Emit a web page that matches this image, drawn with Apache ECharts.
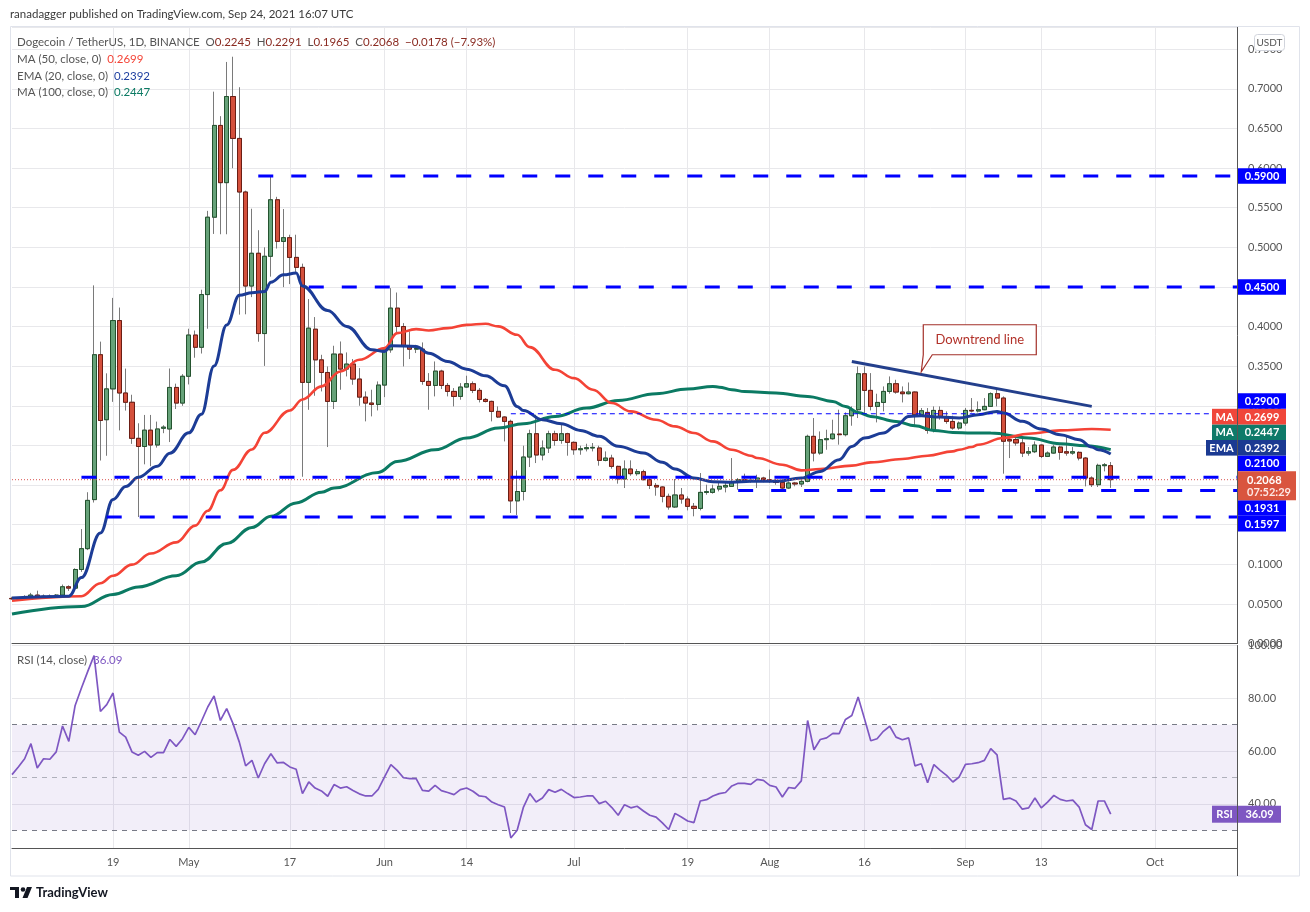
<!DOCTYPE html>
<html><head><meta charset="utf-8">
<script src="https://cdn.jsdelivr.net/npm/echarts/dist/echarts.min.js"></script>
<style>html,body{margin:0;padding:0;background:#fff;}#c{width:1310px;height:912px;}</style>
</head><body><div id="c"></div>
<script>
// ---------- DATA ----------
const startDate = '2021-04-03';
const dayCount = 195;
const xTickDates = ['2021-04-19','2021-05-01','2021-05-17','2021-06-01','2021-06-14','2021-07-01','2021-07-19','2021-08-01','2021-08-16','2021-09-01','2021-09-13','2021-10-01'];
const xTickLabels = ['19','May','17','Jun','14','Jul','19','Aug','16','Sep','13','Oct'];
// daily candles from 2021-04-03: [open, high, low, close]
const candles = [
[.0570,.0590,.0552,.0566],[.0566,.0585,.0556,.0573],[.0573,.0610,.0562,.0590],[.0590,.0640,.0580,.0612],[.0612,.0668,.0580,.0592],
[.0592,.0620,.0572,.0598],[.0598,.0620,.0576,.0591],[.0591,.0625,.0580,.0612],[.0612,.0745,.0600,.0717],[.0717,.0735,.0665,.0700],
[.0700,.0950,.0690,.0935],[.0935,.1445,.0905,.1198],[.1198,.1910,.1180,.1807],[.1817,.4520,.1780,.3645],[.3645,.3810,.2310,.2815],
[.2825,.3410,.2370,.3214],[.3214,.4362,.3050,.4076],[.4076,.4240,.2690,.3162],[.3162,.3470,.2940,.3045],[.3045,.3140,.2520,.2590],
[.2590,.2780,.1597,.2487],[.2487,.2885,.2262,.2693],[.2693,.2885,.2238,.2506],[.2506,.2801,.2473,.2708],[.2717,.2755,.2655,.2731],
[.2708,.3471,.2543,.3232],[.3232,.3280,.2960,.3035],[.3035,.3400,.3000,.3373],[.3373,.3973,.3270,.3893],[.3893,.3950,.3607,.3739],
[.3739,.4465,.3660,.4404],[.4404,.5460,.3973,.5380],[.5380,.6964,.5169,.6538],[.6538,.6655,.5165,.5816],[.5816,.7339,.5165,.6903],
[.6903,.7405,.5998,.6374],[.6374,.7020,.4151,.5698],[.5698,.5715,.4155,.4512],[.4512,.5487,.4372,.4925],[.4925,.5216,.3809,.3912],
[.3912,.5000,.3504,.4887],[.4887,.5905,.4630,.5600],[.5600,.5637,.4985,.5075],[.5075,.5483,.4498,.5122],[.5122,.5159,.4536,.4873],
[.4873,.5159,.4690,.4747],[.4747,.4794,.2105,.3296],[.3296,.4347,.2950,.3980],[.3967,.4120,.3127,.3580],[.3580,.3644,.3182,.3421],
[.3421,.3497,.2480,.3056],[.3056,.3758,.2960,.3653],[.3653,.3812,.3203,.3464],[.3464,.3674,.3371,.3527],[.3527,.3590,.3266,.3338],
[.3338,.3476,.3001,.3110],[.3110,.3182,.2804,.3035],[.3035,.3203,.2867,.3018],[.3018,.3308,.2942,.3262],[.3262,.3730,.3110,.3707],
[.3707,.4485,.3670,.4233],[.4233,.4430,.3920,.4001],[.4001,.4044,.3497,.3757],[.3757,.3938,.3590,.3715],[.3715,.3770,.3666,.3724],
[.3715,.3800,.3266,.3308],[.3308,.3413,.2951,.3257],[.3257,.3560,.3119,.3438],[.3438,.3455,.3212,.3257],[.3257,.3287,.3119,.3182],
[.3182,.3224,.2993,.3119],[.3119,.3287,.3077,.3237],[.3237,.3380,.3230,.3279],[.3279,.3308,.3161,.3195],[.3195,.3224,.3043,.3081],
[.3081,.3098,.3043,.3056],[.3056,.3065,.2804,.2930],[.2930,.2993,.2846,.2859],[.2859,.2867,.2551,.2804],[.2804,.2825,.1648,.1801],
[.1801,.2186,.1623,.1919],[.1919,.2497,.1807,.2354],[.2354,.2699,.2228,.2648],[.2648,.2888,.2278,.2380],[.2380,.2564,.2312,.2468],
[.2468,.2686,.2405,.2648],[.2648,.2686,.2497,.2564],[.2564,.2762,.2522,.2648],[.2648,.2660,.2371,.2539],[.2539,.2551,.2383,.2446],
[.2446,.2497,.2383,.2459],[.2459,.2522,.2425,.2472],[.2468,.2531,.2425,.2476],[.2468,.2497,.2245,.2312],[.2312,.2425,.2300,.2341],
[.2341,.2383,.2207,.2236],[.2236,.2245,.2018,.2077],[.2077,.2312,.1963,.2203],[.2203,.2312,.2118,.2144],[.2144,.2203,.2118,.2169],
[.2169,.2194,.2060,.2068],[.2068,.2089,.1950,.1996],[.1996,.2026,.1866,.1976],[.1976,.1984,.1782,.1858],[.1858,.1892,.1690,.1724],
[.1724,.2077,.1711,.1875],[.1875,.1963,.1765,.1824],[.1824,.1858,.1681,.1732],[.1732,.1774,.1606,.1706],[.1706,.2152,.1681,.1908],
[.1908,.2005,.1879,.1917],[.1908,.2005,.1892,.1950],[.1950,.2026,.1921,.1984],[.1976,.2026,.1908,.1996],[.1984,.2341,.1976,.2039],
[.2039,.2089,.1942,.2068],[.2068,.2144,.2026,.2055],[.2055,.2090,.2030,.2062],[.2047,.2131,.1963,.2089],[.2089,.2105,.2035,.2068],
[.2068,.2194,.2026,.2047],[.2047,.2075,.2005,.2034],[.2034,.2068,.1933,.1963],[.1963,.2047,.1950,.2026],[.2026,.2040,.1985,.2014],
[.2014,.2089,.1976,.2047],[.2047,.2636,.2035,.2615],[.2615,.2846,.2299,.2404],[.2404,.2677,.2383,.2573],[.2573,.2699,.2446,.2585],
[.2585,.2825,.2573,.2644],[.2644,.2951,.2510,.2636],[.2636,.2917,.2615,.2875],[.2875,.2993,.2749,.2951],[.2951,.3497,.2846,.3405],
[.3405,.3497,.2888,.3195],[.3195,.3413,.2942,.2993],[.2993,.3153,.2791,.3043],[.3043,.3245,.2930,.3182],[.3182,.3371,.3153,.3279],
[.3279,.3329,.3153,.3174],[.3174,.3245,.3043,.3153],[.3153,.3295,.3145,.3174],[.3174,.3182,.2732,.2888],[.2888,.2972,.2866,.2938],
[.2917,.2972,.2648,.2690],[.2690,.2993,.2665,.2942],[.2942,.2993,.2825,.2866],[.2866,.2930,.2774,.2803],[.2803,.2875,.2699,.2720],
[.2720,.2803,.2699,.2783],[.2783,.2972,.2749,.2942],[.2943,.3098,.2917,.2935],[.2935,.3056,.2917,.2951],[.2951,.3098,.2945,.2993],
[.2993,.3170,.2985,.3153],[.3153,.3203,.2993,.3098],[.3098,.3119,.2144,.2553],[.2574,.2636,.2341,.2557],[.2574,.2614,.2497,.2532],
[.2532,.2614,.2354,.2404],[.2404,.2480,.2371,.2421],[.2421,.2551,.2404,.2505],[.2505,.2512,.2341,.2362],[.2362,.2425,.2354,.2404],
[.2404,.2509,.2396,.2480],[.2480,.2497,.2320,.2413],[.2421,.2614,.2371,.2404],[.2404,.2480,.2383,.2421],[.2413,.2425,.2312,.2341],
[.2341,.2354,.1984,.2089],[.2089,.2110,.1976,.2005],[.2005,.2270,.1976,.2249],[.2245,.2278,.2173,.2256],[.2245,.2291,.1965,.2068]
];
// indicator readings: [day index, value]
const ema20 = [[0,.0574],[9,.0598],[11,.0833],[14,.1395],[16,.1817],[18,.1981],[20,.2098],[23,.2239],[25,.2403],[28,.2660],[30,.2895],[32,.3504],[34,.4020],[36,.4395],[38,.4428],[40,.4442],[41,.4559],[43,.4653],[45,.4676],[46,.4512],[50,.4203],[53,.4002],[57,.3707],[59,.3686],[60,.3758],[64,.3749],[66,.3665],[69,.3560],[72,.3463],[75,.3379],[78,.3253],[80,.2993],[81,.2940],[84,.2825],[87,.2774],[90,.2690],[93,.2615],[96,.2489],[100,.2404],[103,.2287],[105,.2203],[108,.2090],[111,.2043],[114,.2035],[117,.2047],[121,.2047],[125,.2089],[128,.2173],[131,.2320],[133,.2488],[135,.2593],[138,.2656],[140,.2749],[142,.2866],[144,.2875],[147,.2858],[150,.2846],[153,.2888],[156,.2930],[157,.2909],[160,.2804],[163,.2707],[166,.2636],[169,.2573],[171,.2480],[172,.2446],[174,.2392]];
const ma50 = [[0,.0541],[11,.0598],[14,.0762],[16,.0856],[19,.0996],[22,.1137],[26,.1277],[29,.1488],[31,.1676],[33,.1934],[35,.2192],[38,.2450],[40,.2660],[44,.2942],[46,.3080],[49,.3246],[52,.3434],[55,.3581],[59,.3728],[61,.3917],[64,.3968],[66,.3951],[69,.3980],[72,.4022],[75,.4035],[77,.4002],[80,.3896],[82,.3741],[86,.3455],[89,.3350],[92,.3203],[95,.3035],[98,.2930],[102,.2825],[105,.2741],[108,.2657],[111,.2552],[114,.2446],[117,.2371],[118,.2341],[122,.2257],[125,.2186],[128,.2203],[133,.2245],[136,.2287],[141,.2329],[145,.2371],[149,.2426],[150,.2446],[152,.2480],[153,.2509],[157,.2594],[161,.2648],[166,.2690],[171,.2707],[174,.2699]];
const ma100 = [[0,.0373],[11,.0467],[16,.0621],[20,.0715],[26,.0856],[30,.1029],[34,.1263],[38,.1465],[41,.1606],[45,.1775],[49,.1910],[51,.1963],[58,.2160],[61,.2299],[67,.2446],[72,.2593],[77,.2719],[81,.2775],[86,.2866],[91,.2972],[96,.3068],[102,.3153],[107,.3211],[111,.3245],[112,.3236],[114,.3203],[116,.3180],[121,.3161],[126,.3119],[130,.3056],[132,.2993],[134,.2917],[136,.2867],[140,.2803],[143,.2749],[146,.2690],[149,.2665],[152,.2657],[155,.2656],[161,.2594],[166,.2522],[170,.2497],[174,.2447]];
const rsi = [51.1,54.0,57.1,62.8,53.6,57.1,56.9,59.7,69.5,63.7,77.3,83.9,90.2,96.2,75.0,77.6,82.0,67.2,65.3,59.7,
58.4,59.9,57.6,59.4,59.4,64.4,61.8,64.7,69.0,66.2,71.3,76.7,80.9,71.6,76.1,70.4,63.4,54.4,56.5,49.8,
55.2,59.0,55.5,55.7,54.0,53.1,43.9,48.3,46.0,44.9,42.9,47.3,46.0,46.5,45.1,43.8,43.0,43.0,45.5,50.2,
54.9,52.7,49.9,49.6,49.6,45.1,44.8,47.0,45.0,44.3,43.5,45.4,46.0,44.8,43.0,42.7,40.7,39.7,38.8,27.1,
30.0,38.8,43.9,40.7,42.2,45.4,44.4,45.5,43.9,42.4,42.6,43.0,43.0,40.1,41.0,38.6,35.7,39.7,38.5,39.1,
37.3,35.7,35.0,32.8,30.3,36.4,35.0,33.5,32.9,41.1,41.6,43.0,43.9,44.3,46.8,47.8,47.8,47.4,49.3,48.9,
47.0,46.4,42.6,46.2,45.9,48.7,71.6,60.5,64.4,65.0,66.7,66.6,72.0,73.5,80.5,72.3,63.9,64.7,67.5,69.4,
65.3,64.3,65.0,54.4,55.2,48.0,54.9,52.7,50.8,48.3,50.2,55.0,55.2,55.6,56.5,60.9,58.6,41.7,42.2,41.1,
38.0,38.5,42.2,38.5,40.7,43.2,41.7,41.1,41.4,38.8,32.1,30.3,41.1,41.1,36.09];
const levelValues = [0.59, 0.45, 0.21, 0.1931, 0.1597];
const levelStarts = ['2021-05-12','2021-05-20','2021-04-14','2021-07-27','2021-04-18'];
const thinLevel = 0.29, thinLevelStart = '2021-06-21';
const lastPrice = 0.2068;
const trendLine = [['2021-08-14',0.356],['2021-09-21',0.2993]];
const calloutTip = ['2021-08-25',0.343];
const ohlcText = ['0.2245','0.2291','0.1965','0.2068','−0.0178 (−7.93%)'];

// ---------- CHART ----------
const dates = [];
(function(){const d0=Date.UTC(2021,3,3);for(let i=0;i<dayCount;i++){dates.push(new Date(d0+i*86400000).toISOString().slice(0,10));}})();
const tickMap = {}; xTickDates.forEach((d,i)=>tickMap[d]=xTickLabels[i]);
const isTick = (i,v)=> tickMap[v]!==undefined;
const F = 'Lato, "Liberation Sans", sans-serif';
const gridCol = '#e8e8eb';
const lastDate = dates[dates.length-1];
const toPts = arr => arr.map(p=>[dates[p[0]], p[1]]);

const chart = echarts.init(document.getElementById('c'));
const levelSeries = levelValues.map((v,i)=>({
  type:'line', xAxisIndex:0, yAxisIndex:0, symbol:'none', silent:true, z:8,
  data:[[levelStarts[i],v],[lastDate,v]],
  lineStyle:{color:'#0000ff', width:3, type:[15,18]}
}));
const option = {
  animation:false,
  grid:[
    {left:12, right:73, top:27, height:616.6, outerBoundsMode:'none'},
    {left:12, right:73, top:645.5, height:203, outerBoundsMode:'none'}
  ],
  xAxis:[
    {type:'category', gridIndex:0, data:dates, boundaryGap:false,
     axisLine:{show:true,lineStyle:{color:'#555',width:1}}, axisTick:{show:false}, axisLabel:{show:false},
     splitLine:{show:true, interval:isTick, lineStyle:{color:gridCol}}},
    {type:'category', gridIndex:1, data:dates, boundaryGap:false,
     axisLine:{show:true,lineStyle:{color:'#555',width:1}}, axisTick:{show:false},
     axisLabel:{interval:isTick, formatter:v=>tickMap[v]||'', color:'#555', fontSize:11, fontFamily:F, margin:8},
     splitLine:{show:true, interval:isTick, lineStyle:{color:gridCol}}}
  ],
  yAxis:[
    {type:'value', gridIndex:0, position:'right', min:0, max:0.778, interval:0.05,
     axisLine:{show:true,lineStyle:{color:'#555'}}, axisTick:{show:false},
     axisLabel:{color:'#555', fontSize:11, fontFamily:F, margin:11, showMaxLabel:false, formatter:v=>v.toFixed(4)},
     splitLine:{lineStyle:{color:gridCol}}},
    {type:'value', gridIndex:1, position:'right', min:23.1, max:100, splitNumber:4,
     axisLine:{show:true,lineStyle:{color:'#555'}}, axisTick:{show:false},
     axisLabel:{color:'#555', fontSize:11, fontFamily:F, margin:11, showMinLabel:false, formatter:v=>v.toFixed(2)},
     splitLine:{lineStyle:{color:gridCol}}}
  ],
  series:[
    {type:'candlestick', xAxisIndex:0, yAxisIndex:0, clip:false, barWidth:4.6, z:2,
     data:candles.map(r=>[r[0],r[3],Math.min(r[2],r[0],r[3]),Math.max(r[1],r[0],r[3])]),
     itemStyle:{color:'#66a279',color0:'#d4503c',borderColor:'#7a7a7a',borderColor0:'#7a7a7a',borderWidth:1}},
    {type:'candlestick', xAxisIndex:0, yAxisIndex:0, clip:false, barWidth:4.6, z:3,
     data:candles.map(r=>[r[0],r[3],Math.min(r[0],r[3]),Math.max(r[0],r[3])]),
     itemStyle:{color:'#66a279',color0:'#d4503c',borderColor:'#24532f',borderColor0:'#6b1d14',borderWidth:1}},
    {type:'line', name:'MA100', xAxisIndex:0, yAxisIndex:0, data:toPts(ma100), smooth:0.4, smoothMonotone:'x', showSymbol:false, silent:true, z:4,
     lineStyle:{color:'#0b7a63', width:3}},
    {type:'line', name:'MA50', xAxisIndex:0, yAxisIndex:0, data:toPts(ma50), smooth:0.4, smoothMonotone:'x', showSymbol:false, silent:true, z:4,
     lineStyle:{color:'#f44336', width:2.6}},
    {type:'line', name:'EMA20', xAxisIndex:0, yAxisIndex:0, data:toPts(ema20), smooth:0.4, smoothMonotone:'x', showSymbol:false, silent:true, z:5,
     lineStyle:{color:'#1c3c96', width:3}},
    ...levelSeries,
    {type:'line', xAxisIndex:0, yAxisIndex:0, symbol:'none', silent:true, z:8,
     data:[[thinLevelStart,thinLevel],[lastDate,thinLevel]], lineStyle:{color:'#0000ff', width:1.2, type:[5,4]}},
    {type:'line', xAxisIndex:0, yAxisIndex:0, symbol:'none', silent:true, z:7,
     data:[[dates[0],lastPrice],[lastDate,lastPrice]], lineStyle:{color:'#d9534f', width:1, type:[1,2]}},
    {type:'line', xAxisIndex:0, yAxisIndex:0, symbol:'none', silent:true, z:8,
     data:trendLine, lineStyle:{color:'#233f8c', width:3}},
    {type:'line', name:'RSI', xAxisIndex:1, yAxisIndex:1, data:rsi, showSymbol:false, silent:true, z:5,
     lineStyle:{color:'#7e57c2', width:1.7},
     markArea:{silent:true, itemStyle:{color:'rgba(126,87,194,0.10)'}, data:[[{yAxis:30},{yAxis:70}]]},
     markLine:{silent:true, symbol:'none', label:{show:false}, data:[
       {yAxis:70, lineStyle:{color:'#787b86', width:1, type:[5,5]}},
       {yAxis:50, lineStyle:{color:'rgba(120,123,134,0.55)', width:1, type:[5,5]}},
       {yAxis:30, lineStyle:{color:'#787b86', width:1, type:[5,5]}}]}}
  ]
};
chart.setOption(option);

// ---------- ANNOTATIONS ----------
const yPix = v => chart.convertToPixel({yAxisIndex:0}, v);
const g = [];
function txt(t,x,y,fill,font,align){g.push({type:'text',z:100,style:{text:t,x:x,y:y,fill:fill,font:font,textAlign:align||'left',textVerticalAlign:'middle',verticalAlign:'middle'}});}
// rich text: parts = [[text,color],...]
function rtxt(parts,x,y,size){const rich={};let s='';parts.forEach((p,i)=>{rich['p'+i]={color:p[1],fill:p[1],fontSize:size,fontFamily:F};s+='{p'+i+'|'+p[0]+'}';});
  g.push({type:'text',z:100,style:{text:s,rich:rich,x:x,y:y,font:size+'px '+F,fontSize:size,fontFamily:F,textVerticalAlign:'middle',verticalAlign:'middle'}});}
function box(x,y,w,h,fill,r){g.push({type:'rect',z:99,shape:{x:x,y:y,width:w,height:h,r:r||0},style:{fill:fill}});}
// header
txt('ranadagger published on TradingView.com, Sep 24, 2021 16:07 UTC',10,14,'#3a3a3a','11.5px '+F);
// frame
g.push({type:'rect',z:1,shape:{x:10.5,y:26.5,width:1289,height:849.5},style:{fill:'none',stroke:'#e0e3eb',lineWidth:1}});
g.push({type:'line',z:1,shape:{x1:1237.5,y1:848,x2:1237.5,y2:876},style:{stroke:'#555',lineWidth:1}});
// legend
const LG='#555', VR='#8a2b22', S=11.5;
rtxt([['Dogecoin / TetherUS, 1D, BINANCE  ',LG],['O',LG],[ohlcText[0]+'  ',VR],['H',LG],[ohlcText[1]+'  ',VR],['L',LG],[ohlcText[2]+'  ',VR],['C',LG],[ohlcText[3]+'  ',VR],[ohlcText[4],VR]],17,42,S);
const maLast = ma50[ma50.length-1][1], emaLast = ema20[ema20.length-1][1], ma100Last = ma100[ma100.length-1][1];
rtxt([['MA (50, close, 0)  ',LG],[maLast.toFixed(4),'#f44336']],17,59,S);
rtxt([['EMA (20, close, 0)  ',LG],[emaLast.toFixed(4),'#1e3fa0']],17,76,S);
rtxt([['MA (100, close, 0)  ',LG],[ma100Last.toFixed(4),'#0b7a63']],17,92,S);
rtxt([['RSI (14, close)  ',LG],[rsi[rsi.length-1].toFixed(2),'#7e57c2']],17,660,S);
// USDT box
g.push({type:'rect',z:99,shape:{x:1254.5,y:34.5,width:30,height:16,r:3},style:{fill:'#fff',stroke:'#d1d4dc',lineWidth:1}});
txt('USDT',1269.5,43,'#555','10px '+F,'center');
// price axis labels
const H = 15.6, bx = 1238, bw = 48, bf = 'bold 11px '+F;
const py = yPix(lastPrice), pTop = py - 8.5, pH = 29;
const free = [{v:levelValues[0],bg:'#0000ff'},{v:levelValues[1],bg:'#0000ff'}];
const above = [{v:levelValues[2],bg:'#0000ff'},{v:emaLast,bg:'#1b3a92',tag:'EMA'},{v:ma100Last,bg:'#0e7a69',tag:'MA'},{v:maLast,bg:'#f0463a',tag:'MA'},{v:thinLevel,bg:'#0000ff'}];
const below = [{v:levelValues[3],bg:'#0000ff'},{v:levelValues[4],bg:'#0000ff'}];
function lab(it,c){box(bx,c-H/2,bw,H,it.bg);txt(it.v.toFixed(4),bx+bw/2,c+0.5,'#fff',bf,'center');
  if(it.tag){const tw=it.tag==='EMA'?31:25;box(1237-tw,c-H/2,tw,H,it.bg);txt(it.tag,1237-tw/2,c+0.5,'#fff',bf,'center');}}
free.forEach(it=>lab(it,yPix(it.v)));
let prevTop = pTop; above.sort((a,b)=>a.v-b.v).forEach(it=>{const c=Math.min(yPix(it.v),prevTop-H/2);lab(it,c);prevTop=c-H/2;});
let prevBot = pTop+pH; below.sort((a,b)=>b.v-a.v).forEach(it=>{const c=Math.max(yPix(it.v),prevBot+H/2);lab(it,c);prevBot=c+H/2;});
box(bx,pTop,58,pH,'#d9553f'); txt(lastPrice.toFixed(4),1247,py+0.5,'#fff',bf); txt('07:52:29',1247,py+12.5,'#fde8e4',bf);
// RSI label
const ry = chart.convertToPixel({yAxisIndex:1}, rsi[rsi.length-1]);
box(1212,ry-8.5,25,17,'#7e57c2'); txt('RSI',1224.5,ry+0.5,'#fff',bf,'center');
box(1238,ry-8.5,43,17,'#7e57c2'); txt(rsi[rsi.length-1].toFixed(2),1259.5,ry+0.5,'#fff',bf,'center');
// callout
const tip = chart.convertToPixel({gridIndex:0}, calloutTip);
const bl = tip[0]+2, bt = tip[1]-47, bwid = 113, bh = 30;
g.push({type:'polygon',z:99,shape:{points:[[bl,bt],[bl+bwid,bt],[bl+bwid,bt+bh],[bl+9,bt+bh],[tip[0],tip[1]],[bl,bt+bh]]},
  style:{fill:'#fff',stroke:'#a3302a',lineWidth:1.2}});
txt('Downtrend line',bl+bwid/2,bt+bh/2,'#b2322a','13px '+F,'center');
// logo
box(10,887,9,3,'#131722'); box(15,887,4,11,'#131722');
g.push({type:'circle',z:99,shape:{cx:23,cy:889.5,r:2.3},style:{fill:'#131722'}});
g.push({type:'polygon',z:99,shape:{points:[[27,887],[32,887],[27.5,898],[22.5,898]]},style:{fill:'#131722'}});
txt('TradingView',36,893,'#131722','bold 13px '+F);
chart.setOption({graphic:{elements:g}});
</script></body></html>
